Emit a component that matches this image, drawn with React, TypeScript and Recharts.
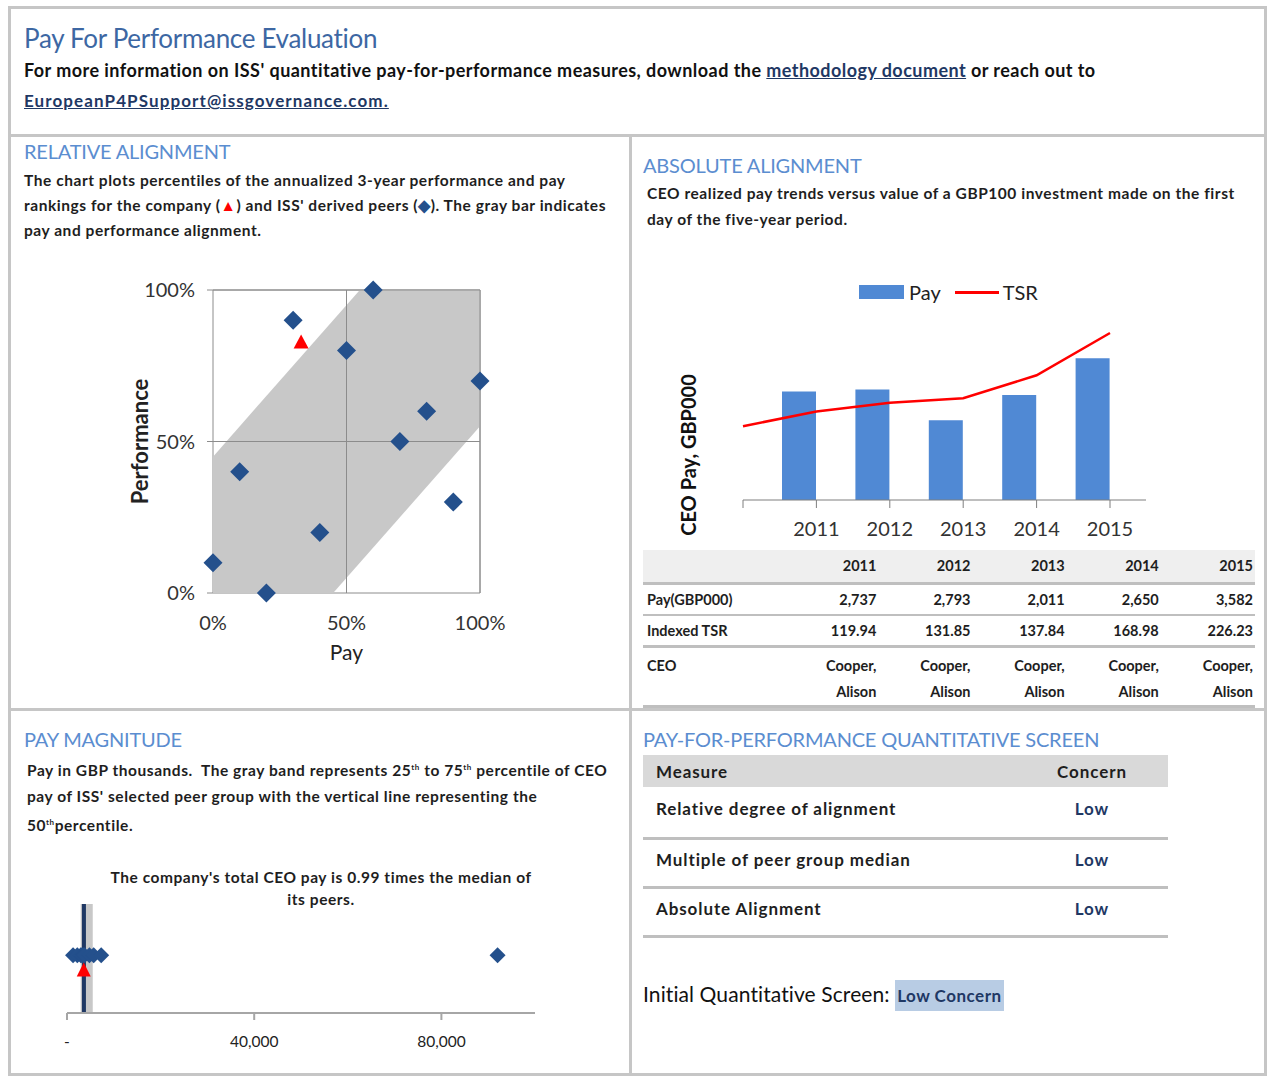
import React from 'react';
import {
  ComposedChart,
  Area,
  Bar,
  Line,
  Scatter,
  XAxis,
  YAxis,
  CartesianGrid,
  ReferenceLine,
  ReferenceArea,
  Legend
} from 'recharts';

// relative alignment (percentile ranks)
const peerPay = [60, 30, 50, 100, 80, 70, 10, 90, 40, 0, 20];
const peerPerf = [100, 90, 80, 70, 60, 50, 40, 30, 20, 10, 0];
const companyPay = 33;
const companyPerf = 83;
const bandX = [0, 45, 55, 100];
const bandLow = [0, 0, 10, 55];
const bandHigh = [45, 90, 100, 100];
const pctTicks = [0, 50, 100];

// absolute alignment
const years = ['2011', '2012', '2013', '2014', '2015'];
const pay = [2737, 2793, 2011, 2650, 3582];
const tsrStart = 100;
const tsr = [119.94, 131.85, 137.84, 168.98, 226.23];
const ceo = ['Cooper, Alison', 'Cooper, Alison', 'Cooper, Alison', 'Cooper, Alison', 'Cooper, Alison'];

// pay magnitude (GBP000)
const peerTotalPay = [1300, 2200, 2950, 3200, 3500, 3740, 4800, 5700, 7300, 92000];
const companyTotalPay = 3582;
const p25 = 2930;
const p50 = 3618;
const p75 = 5500;
const magTicks = [0, 40000, 80000];
const PEER_ROW = 0.53;
const COMPANY_ROW = 0.4;

// quantitative screen
const measures = ['Relative degree of alignment', 'Multiple of peer group median', 'Absolute Alignment'];
const concerns = ['Low', 'Low', 'Low'];

const FONT = "Lato, 'Open Sans', sans-serif";
const BORDER = '#c6c6c6';
const TITLE_BLUE = '#5b8dd0';
const NAVY = '#24508c';

const bandRows = bandX.map((x, i) => ({ x, band: [bandLow[i], bandHigh[i]] }));
const peerRows = peerPay.map((x, i) => ({ x, y: peerPerf[i] }));
const companyRows = [{ x: companyPay, y: companyPerf }];
const payRows = years.map((year, i) => ({ year, pay: pay[i] }));
const tsrRows = [{ i: 0, tsr: tsrStart }, ...tsr.map((v, i) => ({ i: i + 1, tsr: v }))];
const magPeerRows = peerTotalPay.map((x) => ({ x, y: PEER_ROW }));
const magCompanyRows = [{ x: companyTotalPay, y: COMPANY_ROW }];

const diamond = (r: number, fill: string) => (props: any) => {
  const { cx, cy } = props;
  if (cx == null || cy == null) return <g />;
  return <path d={`M${cx},${cy - r}L${cx + r},${cy}L${cx},${cy + r}L${cx - r},${cy}Z`} fill={fill} />;
};

const triangle = (w: number, h: number, fill: string) => (props: any) => {
  const { cx, cy } = props;
  if (cx == null || cy == null) return <g />;
  return <path d={`M${cx},${cy - h / 2}L${cx + w / 2},${cy + h / 2}L${cx - w / 2},${cy + h / 2}Z`} fill={fill} />;
};

const abs = (left: number, top: number, extra: React.CSSProperties = {}): React.CSSProperties => ({
  position: 'absolute',
  left,
  top,
  ...extra
});

const sectionTitle: React.CSSProperties = {
  fontSize: 20,
  color: TITLE_BLUE,
  letterSpacing: -0.2,
  lineHeight: '26px',
  whiteSpace: 'nowrap'
};

const desc: React.CSSProperties = {
  fontSize: 15.5,
  fontWeight: 700,
  color: '#1e1e1e',
  lineHeight: '25px',
  whiteSpace: 'nowrap',
  letterSpacing: 0.55
};

const RelativeChart = () => (
  <ComposedChart width={453} height={398} data={bandRows} margin={{ top: 20, right: 40, bottom: 0, left: 0 }}>
    <CartesianGrid stroke="#8c8c8c" horizontalValues={pctTicks} verticalValues={pctTicks} />
    <XAxis
      dataKey="x"
      type="number"
      domain={[0, 100]}
      ticks={pctTicks}
      tickFormatter={(v) => `${v}%`}
      axisLine={false}
      tickLine={false}
      tickSize={0}
      tickMargin={23}
      height={75}
      tick={{ fontSize: 20, fill: '#333', fontFamily: FONT }}
      label={{ value: 'Pay', position: 'insideBottom', offset: 8, fontSize: 21, fill: '#222', fontFamily: FONT }}
    />
    <YAxis
      type="number"
      domain={[0, 100]}
      ticks={pctTicks}
      tickFormatter={(v) => `${v}%`}
      width={146}
      axisLine={false}
      tickLine={{ stroke: '#8c8c8c' }}
      tickSize={6}
      tickMargin={12}
      tick={{ fontSize: 20, fill: '#333', fontFamily: FONT }}
      label={{ value: 'Performance', angle: -90, position: 'center', fontSize: 22, fontWeight: 700, fill: '#222', fontFamily: FONT }}
    />
    <Area dataKey="band" type="linear" fill="#c8c8c8" fillOpacity={1} stroke="none" isAnimationActive={false} />
    <ReferenceLine x={50} stroke="#8c8c8c" />
    <ReferenceLine y={50} stroke="#8c8c8c" />
    <ReferenceLine x={100} stroke="#8c8c8c" />
    <ReferenceLine y={100} stroke="#8c8c8c" />
    <Scatter data={peerRows} dataKey="y" shape={diamond(9.5, NAVY)} isAnimationActive={false} />
    <Scatter data={companyRows} dataKey="y" shape={triangle(15, 14, '#ff0000')} isAnimationActive={false} />
  </ComposedChart>
);

const PayLegend = () => (
  <div style={{ display: 'flex', alignItems: 'center', fontFamily: FONT, fontSize: 20, color: '#222' }}>
    <span style={{ width: 45, height: 14, background: '#5089d4', display: 'inline-block', marginRight: 5 }} />
    <span style={{ marginRight: 14 }}>Pay</span>
    <span style={{ width: 44, height: 3, background: '#ff0000', display: 'inline-block', marginRight: 4 }} />
    <span>TSR</span>
  </div>
);

const AbsoluteChart = () => (
  <ComposedChart width={620} height={270} data={payRows} margin={{ top: 10, right: 114, bottom: 0, left: 103 }}>
    <XAxis xAxisId="bars" dataKey="year" type="category" hide height={0} padding={{ left: 19, right: 17 }} />
    <XAxis
      xAxisId="tsr"
      dataKey="i"
      type="number"
      domain={[0, 5]}
      ticks={[0, 1, 2, 3, 4, 5]}
      padding={{ left: 0, right: 36 }}
      tickFormatter={(v) => (v > 0 ? years[v - 1] : '')}
      axisLine={{ stroke: '#7f7f7f' }}
      tickLine={{ stroke: '#7f7f7f' }}
      tickSize={8}
      tickMargin={14}
      height={40}
      tick={{ fontSize: 20, fill: '#333', fontFamily: FONT }}
    />
    <YAxis yAxisId="pay" domain={[0, 5555]} width={0} tick={false} tickLine={false} axisLine={{ stroke: '#7f7f7f' }} />
    <YAxis yAxisId="tsr" orientation="right" domain={[0, 298]} hide width={0} />
    <Legend
      verticalAlign="middle"
      align="center"
      content={() => <PayLegend />}
      wrapperStyle={{ top: 10, left: 219, width: 220 }}
    />
    <Bar xAxisId="bars" yAxisId="pay" dataKey="pay" name="Pay" barSize={34} fill="#5089d4" isAnimationActive={false} />
    <Line
      xAxisId="tsr"
      yAxisId="tsr"
      data={tsrRows}
      dataKey="tsr"
      name="TSR"
      type="linear"
      stroke="#ff0000"
      strokeWidth={2.5}
      dot={false}
      isAnimationActive={false}
    />
  </ComposedChart>
);

const MagnitudeChart = () => (
  <ComposedChart width={540} height={175} margin={{ top: 19, right: 25, bottom: 0, left: 47 }}>
    <XAxis
      dataKey="x"
      type="number"
      domain={[0, 100000]}
      ticks={magTicks}
      tickFormatter={(v) => (v === 0 ? '-' : v.toLocaleString('en-US'))}
      axisLine={{ stroke: '#a6a6a6', strokeWidth: 2 }}
      tickLine={{ stroke: '#a6a6a6', strokeWidth: 2 }}
      tickSize={7}
      tickMargin={16}
      height={47}
      tick={{ fontSize: 15.5, fill: '#222', fontFamily: FONT }}
    />
    <YAxis type="number" domain={[0, 1]} hide />
    <ReferenceArea x1={p25} x2={p75} y1={0} y2={1} fill="#c8c8c8" fillOpacity={1} stroke="none" />
    <ReferenceLine x={p50} stroke="#1f3864" strokeWidth={4} />
    <Scatter data={magPeerRows} dataKey="y" shape={diamond(8, NAVY)} isAnimationActive={false} />
    <Scatter data={magCompanyRows} dataKey="y" shape={triangle(14, 14, '#ff0000')} isAnimationActive={false} />
  </ComposedChart>
);

const cell: React.CSSProperties = { padding: '0 2px 0 0', textAlign: 'right', fontWeight: 700 };

const PayTable = () => (
  <table
    style={{
      ...abs(643, 550),
      width: 612,
      borderCollapse: 'collapse',
      fontFamily: FONT,
      fontSize: 14.5,
      color: '#1e1e1e'
    }}
  >
    <colgroup>
      <col style={{ width: 141 }} />
      {years.map((y) => (
        <col key={y} style={{ width: 94 }} />
      ))}
    </colgroup>
    <tbody>
      <tr style={{ background: '#efefef', height: 33, borderBottom: '3px solid #bfbfbf' }}>
        <td />
        {years.map((y) => (
          <td key={y} style={cell}>{y}</td>
        ))}
      </tr>
      <tr style={{ height: 32, borderBottom: '2px solid #bfbfbf' }}>
        <td style={{ fontWeight: 700, paddingLeft: 4 }}>Pay(GBP000)</td>
        {pay.map((v, i) => (
          <td key={i} style={cell}>{v.toLocaleString('en-US')}</td>
        ))}
      </tr>
      <tr style={{ height: 31, borderBottom: '3px solid #bfbfbf' }}>
        <td style={{ fontWeight: 700, paddingLeft: 4 }}>Indexed TSR</td>
        {tsr.map((v, i) => (
          <td key={i} style={cell}>{v.toFixed(2)}</td>
        ))}
      </tr>
      <tr style={{ height: 54, borderBottom: '3px solid #bfbfbf' }}>
        <td style={{ fontWeight: 700, paddingLeft: 4, verticalAlign: 'top', paddingTop: 9 }}>CEO</td>
        {ceo.map((v, i) => (
          <td key={i} style={{ ...cell, lineHeight: '26px', verticalAlign: 'top', paddingTop: 5 }}>
            {v.split(' ').map((w, j) => (
              <div key={j}>{w}</div>
            ))}
          </td>
        ))}
      </tr>
    </tbody>
  </table>
);

const ScreenTable = () => (
  <table
    style={{
      ...abs(643, 755),
      width: 525,
      borderCollapse: 'collapse',
      fontFamily: FONT,
      fontSize: 17,
      fontWeight: 700,
      letterSpacing: 0.9,
      color: '#1e1e1e'
    }}
  >
    <tbody>
      <tr style={{ background: '#d9d9d9', height: 32 }}>
        <td style={{ paddingLeft: 13 }}>Measure</td>
        <td style={{ textAlign: 'center', width: 150 }}>Concern</td>
      </tr>
      {measures.map((m, i) => (
        <tr key={m} style={{ height: i === 0 ? 51 : 49, borderBottom: '3px solid #bfbfbf' }}>
          <td style={{ paddingLeft: 13, paddingBottom: 8 }}>{m}</td>
          <td style={{ textAlign: 'center', color: '#1f3864', paddingBottom: 8 }}>{concerns[i]}</td>
        </tr>
      ))}
    </tbody>
  </table>
);

export default function App() {
  return (
    <div style={{ position: 'absolute', left: 0, top: 0, width: 1272, height: 1078, background: '#fff', fontFamily: FONT }}>
      {/* frame */}
      <div style={{ ...abs(8, 6), width: 1253, height: 1064, border: `3px solid ${BORDER}` }} />
      <div style={{ ...abs(8, 134), width: 1259, height: 3, background: BORDER }} />
      <div style={{ ...abs(629, 134), width: 3, height: 940, background: BORDER }} />
      <div style={{ ...abs(8, 708), width: 1259, height: 3, background: BORDER }} />

      {/* header */}
      <div style={{ ...abs(24, 23), fontSize: 26, color: '#3d67a3', lineHeight: '30px', letterSpacing: -0.3, whiteSpace: 'nowrap' }}>
        Pay For Performance Evaluation
      </div>
      <div style={{ ...abs(24, 55), fontSize: 18, fontWeight: 700, color: '#111', lineHeight: '30px', whiteSpace: 'nowrap', letterSpacing: 0.45 }}>
        For more information on ISS' quantitative pay-for-performance measures, download the{' '}
        <span style={{ color: '#1f3864', textDecoration: 'underline' }}>methodology document</span> or reach out to
        <br />
        <span style={{ color: '#1f3864', textDecoration: 'underline', fontSize: 17, letterSpacing: 1.1 }}>
          EuropeanP4PSupport@issgovernance.com.
        </span>
      </div>

      {/* relative alignment */}
      <div style={{ ...abs(24, 138), ...sectionTitle }}>RELATIVE ALIGNMENT</div>
      <div style={{ ...abs(24, 168), ...desc }}>
        The chart plots percentiles of the annualized 3-year performance and pay
        <br />
        rankings for the company (<span style={{ color: '#ff0000' }}>▲</span>) and ISS' derived peers (
        <span style={{ color: NAVY }}>◆</span>). The gray bar indicates
        <br />
        pay and performance alignment.
      </div>
      <div style={abs(67, 270)}>
        <RelativeChart />
      </div>

      {/* absolute alignment */}
      <div style={{ ...abs(643, 152), ...sectionTitle }}>ABSOLUTE ALIGNMENT</div>
      <div style={{ ...abs(647, 180), ...desc, lineHeight: '26px' }}>
        CEO realized pay trends versus value of a GBP100 investment made on the first
        <br />
        day of the five-year period.
      </div>
      <div style={abs(640, 270)}>
        <AbsoluteChart />
      </div>
      <div
        style={{
          ...abs(688, 455),
          transform: 'translate(-50%, -50%) rotate(-90deg)',
          fontSize: 20,
          fontWeight: 700,
          color: '#111',
          whiteSpace: 'nowrap'
        }}
      >
        CEO Pay, GBP000
      </div>
      <PayTable />

      {/* pay magnitude */}
      <div style={{ ...abs(24, 726), ...sectionTitle }}>PAY MAGNITUDE</div>
      <div style={{ ...abs(27, 754), ...desc, lineHeight: '26px' }}>
        Pay in GBP thousands.&nbsp; The gray band represents 25<sup style={{ fontSize: 8 }}>th</sup> to 75
        <sup style={{ fontSize: 8 }}>th</sup> percentile of CEO
        <br />
        pay of ISS' selected peer group with the vertical line representing the
        <br />
        50<sup style={{ fontSize: 8 }}>th</sup>percentile.
      </div>
      <div style={{ ...abs(90, 866), width: 462, textAlign: 'center', ...desc, lineHeight: '22px' }}>
        The company's total CEO pay is 0.99 times the median of
        <br />
        its peers.
      </div>
      <div style={abs(20, 885)}>
        <MagnitudeChart />
      </div>

      {/* quantitative screen */}
      <div style={{ ...abs(643, 726), ...sectionTitle }}>PAY-FOR-PERFORMANCE QUANTITATIVE SCREEN</div>
      <ScreenTable />
      <div style={{ ...abs(643, 980), fontSize: 21, color: '#111', lineHeight: '28px', letterSpacing: 0.1, whiteSpace: 'nowrap' }}>
        Initial Quantitative Screen:{' '}
        <span style={{ background: '#b8cce4', color: '#1f3864', fontSize: 17, fontWeight: 700, padding: '5px 2px', letterSpacing: 0.5 }}>
          Low Concern
        </span>
      </div>
    </div>
  );
}
